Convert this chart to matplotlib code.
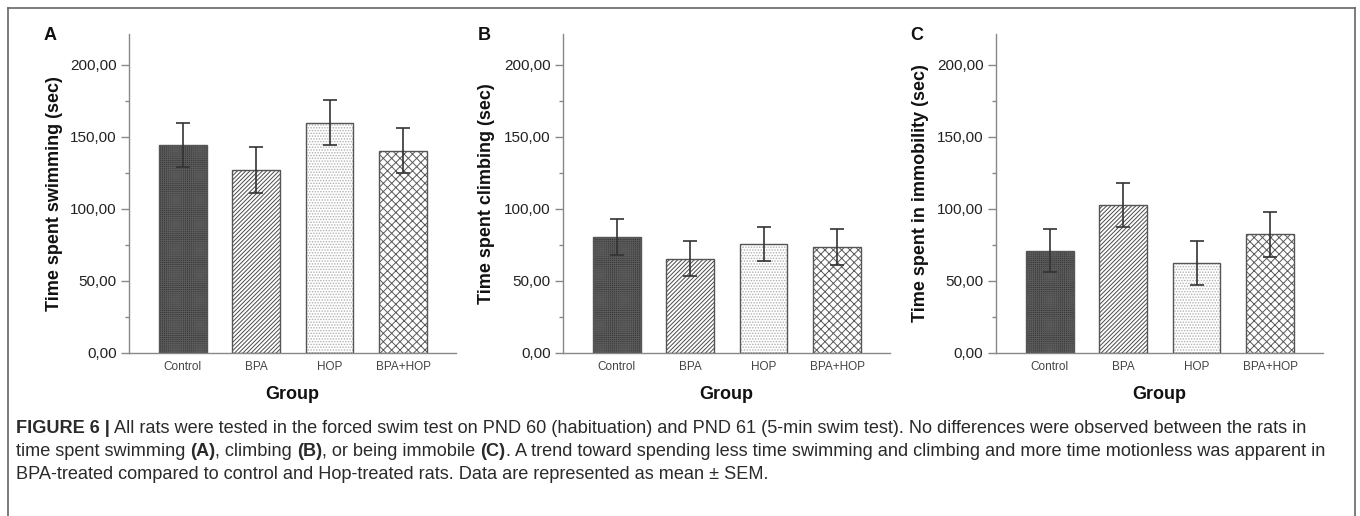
import matplotlib
matplotlib.use('Agg')
import matplotlib.pyplot as plt
from matplotlib.lines import Line2D

plt.rcParams['font.family'] = ['Liberation Sans', 'DejaVu Sans']
plt.rcParams['hatch.linewidth'] = 0.7

# data (mean and SEM, seconds)
groups = ['Control', 'BPA', 'HOP', 'BPA+HOP']
swim_mean = [144.4, 127.1, 159.9, 140.5]
swim_sem = [15.4, 15.7, 15.6, 15.5]
climb_mean = [80.4, 65.6, 75.6, 73.5]
climb_sem = [12.3, 12.3, 12.0, 12.3]
immob_mean = [71.0, 102.5, 62.5, 82.4]
immob_sem = [15.1, 15.3, 15.3, 15.5]

ytick_vals = [0, 50, 100, 150, 200]
ytick_labels = ['0,00', '50,00', '100,00', '150,00', '200,00']

panels = [
    ('A', 'Time spent swimming (sec)', swim_mean, swim_sem),
    ('B', 'Time spent climbing (sec)', climb_mean, climb_sem),
    ('C', 'Time spent in immobility (sec)', immob_mean, immob_sem),
]

# bar fill styles: (facecolor, hatch, hatch colour)
styles = [
    ('#363636', '++++++++', '#5a5a5a'),
    ('white', '////////', '#4a4a4a'),
    ('white', '......', '#b0b0b0'),
    ('white', 'xxxx', '#5a5a5a'),
]

W, H = 1360, 516
fig = plt.figure(figsize=(W / 100, H / 100), dpi=100)

ax_left_px = [129, 563, 996]
ax_w_px = 327
ax_top_px, ax_bot_px = 34, 353
ylab_off = [66, 68, 67]

for (letter, ylabel, means, sems), lpx, yoff in zip(panels, ax_left_px, ylab_off):
    ax = fig.add_axes([lpx / W, 1 - ax_bot_px / H, ax_w_px / W, (ax_bot_px - ax_top_px) / H])
    x = list(range(len(groups)))
    for i in x:
        fc, hatch, hc = styles[i]
        ax.bar(i, means[i], width=0.65, color=fc, hatch=hatch, edgecolor=hc, linewidth=0, zorder=2)
    ax.bar(x, means, width=0.65, fill=False, edgecolor='#555555', linewidth=1.0, zorder=3)
    ax.errorbar(x, means, yerr=sems, fmt='none', ecolor='#333333', elinewidth=1.2,
                capsize=5.3, capthick=1.2, zorder=4)

    ax.set_xlim(-0.73, 3.72)
    ax.set_ylim(0, 221.5)
    ax.set_yticks(ytick_vals)
    ax.set_yticklabels(ytick_labels, fontsize=11, color='#222222')
    ax.set_yticks([25, 75, 125, 175], minor=True)
    ax.tick_params(axis='y', which='major', length=6, width=1, color='#888888', pad=3)
    ax.tick_params(axis='y', which='minor', length=3, width=1, color='#888888')
    ax.set_xticks(x)
    ax.set_xticklabels(groups, fontsize=8.5, color='#444444')
    ax.tick_params(axis='x', length=0, pad=6)

    for s in ['top', 'right']:
        ax.spines[s].set_visible(False)
    for s in ['left', 'bottom']:
        ax.spines[s].set_color('#888888')
        ax.spines[s].set_linewidth(1.0)

    ax.set_ylabel(ylabel, fontsize=13, fontweight='bold', color='#111111')
    ax.yaxis.set_label_coords(-yoff / ax_w_px, 0.5)
    ax.set_xlabel('Group', fontsize=13, fontweight='bold', color='#111111')
    ax.xaxis.set_label_coords(0.5, -33 / (ax_bot_px - ax_top_px))

    fig.text((lpx - 79) / W, 1 - 35 / H, letter, fontsize=13, fontweight='bold',
             ha='center', va='center', color='#111111')

# outer frame (left, top, right)
fx0, fx1, fy1 = 8 / W, 1355 / W, 1 - 8 / H
for xs, ys in [([fx0, fx0], [0, fy1]), ([fx0, fx1], [fy1, fy1]), ([fx1, fx1], [fy1, 0])]:
    fig.add_artist(Line2D(xs, ys, color='#666666', linewidth=1.2, transform=fig.transFigure))

# caption with bold pieces
caption = [
    [('FIGURE 6 |', 'bold'), (' All rats were tested in the forced swim test on PND 60 (habituation) and PND 61 (5-min swim test). No differences were observed between the rats in', 'normal')],
    [('time spent swimming ', 'normal'), ('(A)', 'bold'), (', climbing ', 'normal'), ('(B)', 'bold'),
     (', or being immobile ', 'normal'), ('(C)', 'bold'),
     ('. A trend toward spending less time swimming and climbing and more time motionless was apparent in', 'normal')],
    [('BPA-treated compared to control and Hop-treated rats. Data are represented as mean \u00b1 SEM.', 'normal')],
]
renderer = fig.canvas.get_renderer()
line_y = [433, 456, 479]
for pieces, ypx in zip(caption, line_y):
    xpos = 16 / W
    for s, w in pieces:
        t = fig.text(xpos, 1 - ypx / H, s, fontsize=13.1, fontweight=w, color='#2a2a2a',
                     ha='left', va='baseline')
        bb = t.get_window_extent(renderer)
        xpos += bb.width / W

fig.savefig('out.png', dpi=100)
